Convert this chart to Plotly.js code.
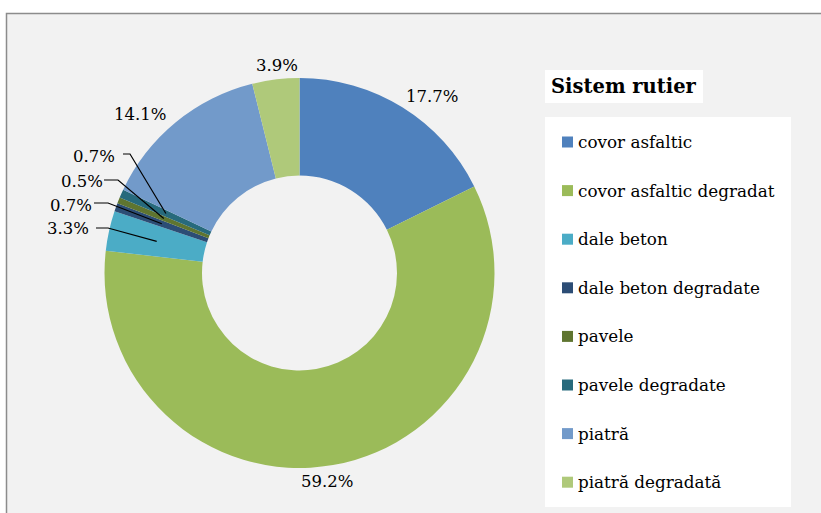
<!DOCTYPE html>
<html>
<head>
<meta charset="utf-8">
<script src="https://cdn.plot.ly/plotly-3.0.1.min.js"></script>
<style>html,body{margin:0;padding:0;background:#fff;}#chart{width:821px;height:513px;}</style>
</head>
<body>
<div id="chart"></div>
<script>
// ---- data ----
const categories = ['covor asfaltic','covor asfaltic degradat','dale beton','dale beton degradate','pavele','pavele degradate','piatră','piatră degradată'];
const values = [17.7, 59.2, 3.3, 0.7, 0.5, 0.7, 14.1, 3.9];
const valueLabels = ['17.7%','59.2%','3.3%','0.7%','0.5%','0.7%','14.1%','3.9%'];
const colors = ['#4F81BD','#9BBB59','#4BACC6','#2C4D75','#5F7530','#276A7C','#729ACA','#AFC97A'];
const legendTitle = 'Sistem rutier';

// ---- layout (pixels) ----
const W = 821, H = 513;
const cx = 299.5, cy = 273, R = 195, hole = 0.5;
const px = x => x / W;
const py = y => 1 - y / H;
const FONT = 'DejaVu Serif';

// label text centres and (optional) elbow points for leader lines
const labelPos = [[432,96],[327,481],[68,228],[71,205],[82,181],[94,156],[140,115],[277,65]];
const elbows = [null,null,[[96,228],[108,228]],[[94,203],[108,203]],[[104,180],[118,180]],[[123,154],[130,154]],null,null];

const total = values.reduce((a,b)=>a+b,0);
const annotations = [];
const shapes = [];

// background frame
shapes.push({type:'rect', xref:'paper', yref:'paper', x0:px(6.5), x1:1.02, y0:-0.02, y1:py(13.5),
  fillcolor:'#f2f2f2', line:{color:'#8c8c8c', width:1.5}, layer:'below'});

// data labels + leader lines
let cum = 0;
values.forEach((v,i)=>{
  const mid = (cum + v/2) / total;
  cum += v;
  const th = mid * 2 * Math.PI;
  const rm = R * (1 + hole) / 2;
  const ex = cx + rm * Math.sin(th), ey = cy - rm * Math.cos(th);
  annotations.push({xref:'paper', yref:'paper', x:px(labelPos[i][0]), y:py(labelPos[i][1]),
    text:valueLabels[i], showarrow:false, xanchor:'center', yanchor:'middle',
    font:{family:FONT, size:16.5, color:'#000'}});
  if (elbows[i]) {
    const [a,b] = elbows[i];
    shapes.push({type:'path', xref:'paper', yref:'paper',
      path:`M ${px(a[0])} ${py(a[1])} L ${px(b[0])} ${py(b[1])} L ${px(ex)} ${py(ey)}`,
      line:{color:'#000', width:1.2}, layer:'above'});
  }
});

// legend (drawn as boxes + text)
shapes.push({type:'rect', xref:'paper', yref:'paper', x0:px(545), x1:px(703), y0:py(103), y1:py(70),
  fillcolor:'#ffffff', line:{width:0}});
shapes.push({type:'rect', xref:'paper', yref:'paper', x0:px(545), x1:px(791), y0:py(507), y1:py(117),
  fillcolor:'#ffffff', line:{width:0}});
annotations.push({xref:'paper', yref:'paper', x:px(549), y:py(87), text:'<b>'+legendTitle+'</b>',
  showarrow:false, xanchor:'left', yanchor:'middle', font:{family:FONT, size:19.5, color:'#000'}});
categories.forEach((c,i)=>{
  const yc = 142 + i * 48.6;
  shapes.push({type:'rect', xref:'paper', yref:'paper', x0:px(562), x1:px(573), y0:py(yc+5.5), y1:py(yc-5.5),
    fillcolor:colors[i], line:{width:0}});
  annotations.push({xref:'paper', yref:'paper', x:px(576), y:py(yc), text:c, showarrow:false,
    xanchor:'left', yanchor:'middle', font:{family:FONT, size:16.8, color:'#000'}});
});

const trace = {
  type:'pie', labels:categories, values:values, hole:hole, sort:false, direction:'clockwise', rotation:0,
  marker:{colors:colors, line:{width:0}}, textinfo:'none', hoverinfo:'label+percent',
  domain:{x:[px(cx-R), px(cx+R)], y:[py(cy+R), py(cy-R)]}, showlegend:false
};

Plotly.newPlot('chart', [trace], {
  width:W, height:H, margin:{l:0,r:0,t:0,b:0},
  paper_bgcolor:'#ffffff', showlegend:false,
  shapes:shapes, annotations:annotations
}, {staticPlot:true});
</script>
</body>
</html>
